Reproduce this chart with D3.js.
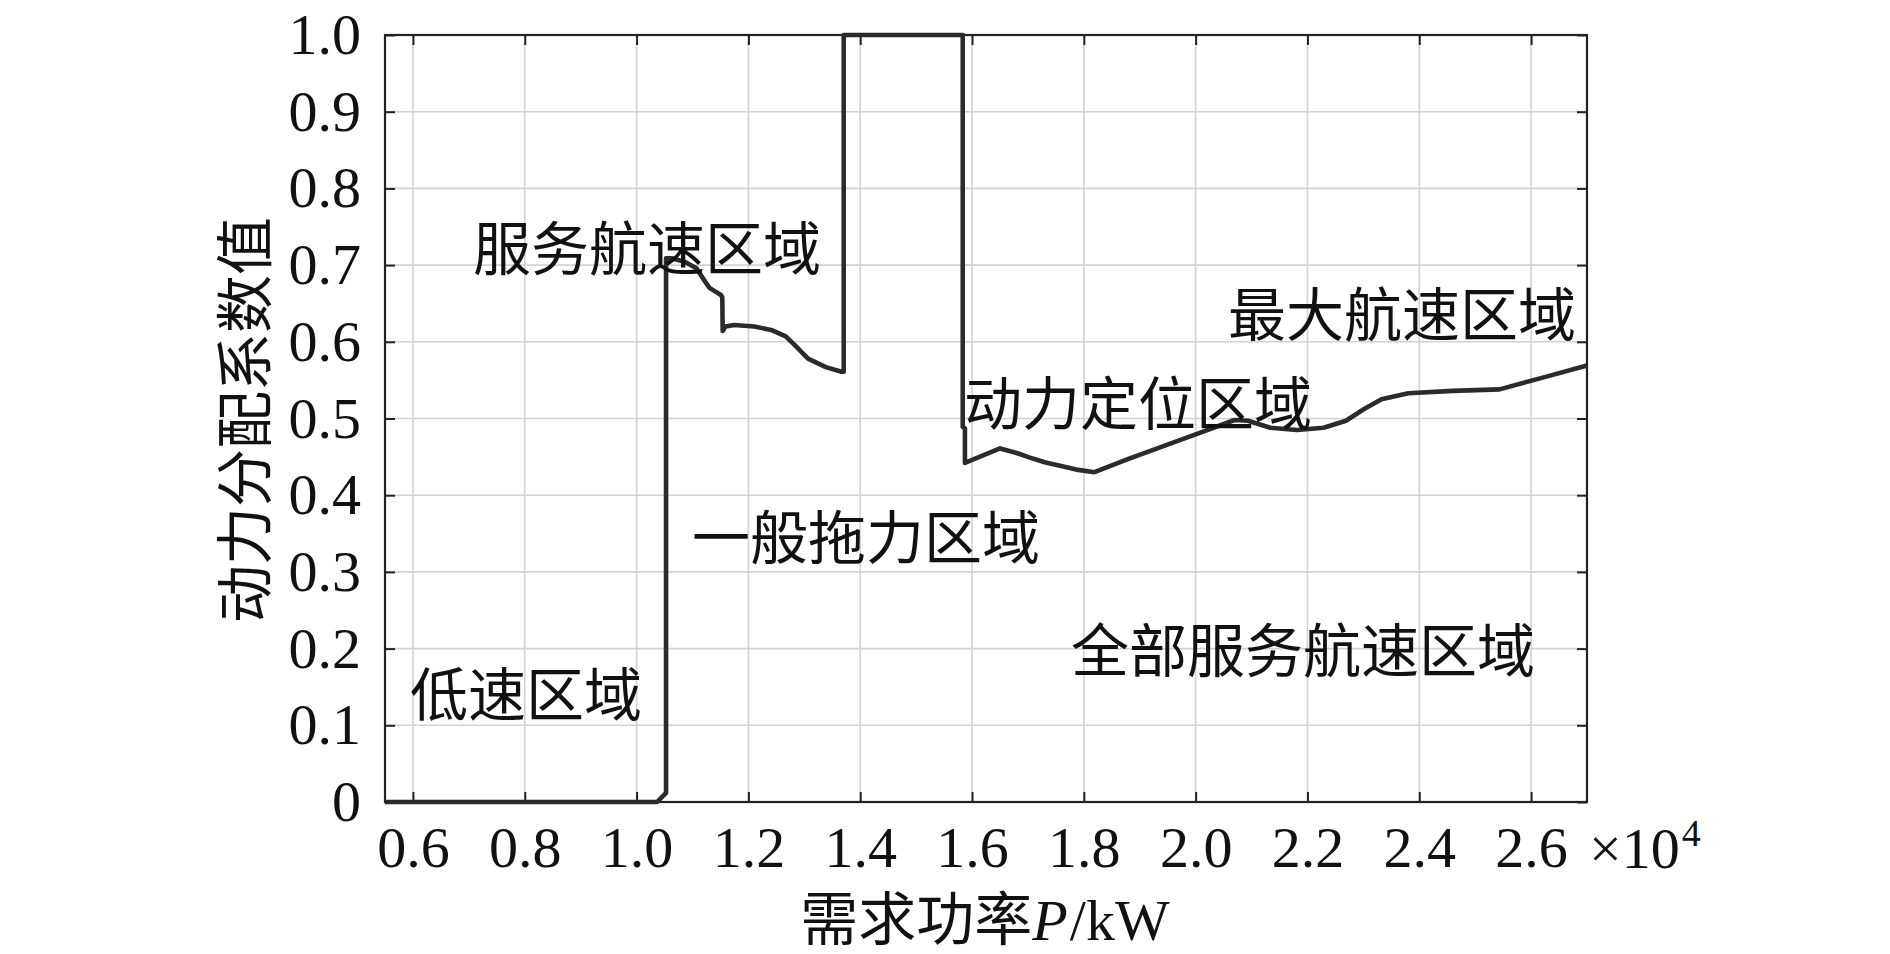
<!DOCTYPE html>
<html>
<head>
<meta charset="utf-8">
<script src="https://cdn.jsdelivr.net/npm/d3@7"></script>
<style>
  body { margin: 0; background: #fff; }
  .tick text { font-family: "Liberation Serif", "Times New Roman", serif; font-size: 58px; fill: #111; }
  .cjk { font-family: "Noto Sans CJK SC", sans-serif; font-size: 58px; fill: #111; }
  .serif { font-family: "Liberation Serif", "Times New Roman", serif; font-size: 58px; fill: #111; }
</style>
</head>
<body>
<svg id="chart"></svg>
<script>
// demand power (kW) and distribution coefficient
var power = [5500, 10367, 10527, 10527, 10631, 10870, 11070, 11230, 11309, 11509, 11533, 11540,
  11589, 11748, 12108, 12427, 12667, 12826, 13066, 13385, 13665, 13705, 13705, 15834, 15834,
  15873, 15873, 16501, 16800, 17035, 17300, 17592, 17900, 18190, 18787, 19424, 20061, 20698,
  20936, 21335, 21812, 22290, 22688, 23006, 23325, 23803, 24599, 25435, 26191, 27000]
var coef = [0, 0, 0.012, 0.709, 0.709, 0.704, 0.696, 0.678, 0.670, 0.661, 0.658, 0.614,
  0.620, 0.622, 0.620, 0.615, 0.607, 0.596, 0.578, 0.567, 0.561, 0.561, 1.0, 1.0, 0.489,
  0.487, 0.442, 0.461, 0.455, 0.449, 0.443, 0.438, 0.433, 0.430, 0.447, 0.464, 0.481, 0.498,
  0.497, 0.488, 0.485, 0.488, 0.497, 0.512, 0.525, 0.533, 0.536, 0.538, 0.553, 0.569]

var xTicks = [6000, 8000, 10000, 12000, 14000, 16000, 18000, 20000, 22000, 24000, 26000]
var yTicks = [0, 0.1, 0.2, 0.3, 0.4, 0.5, 0.6, 0.7, 0.8, 0.9, 1.0]

var regionNames = ["服务航速区域", "低速区域", "一般拖力区域", "动力定位区域", "最大航速区域", "全部服务航速区域"]
var regionP = [7073, 5946, 10991, 15857, 20580, 17771]
var regionC = [0.726, 0.145, 0.349, 0.524, 0.640, 0.202]

var W = 1890, H = 954
var margin = { left: 385, right: 303, top: 35, bottom: 152 }
var width = W - margin.left - margin.right
var height = H - margin.top - margin.bottom

var svg = d3.select("#chart").attr("width", W).attr("height", H)
var g = svg.append("g").attr("transform", "translate(" + margin.left + "," + margin.top + ")")

var x = d3.scaleLinear().domain([5500, 27000]).range([0, width])
var y = d3.scaleLinear().domain([0, 1]).range([height, 0])

// grid
g.append("g").selectAll("line").data(xTicks).enter().append("line")
  .attr("x1", function(d) { return x(d) }).attr("x2", function(d) { return x(d) })
  .attr("y1", 0).attr("y2", height)
  .attr("stroke", "#d2d2d2").attr("stroke-width", 1.6)
g.append("g").selectAll("line").data(yTicks).enter().append("line")
  .attr("y1", function(d) { return y(d) }).attr("y2", function(d) { return y(d) })
  .attr("x1", 0).attr("x2", width)
  .attr("stroke", "#d2d2d2").attr("stroke-width", 1.6)

// axes with inward ticks
var xAxis = g.append("g").attr("transform", "translate(0," + height + ")")
  .call(d3.axisBottom(x).tickValues(xTicks).tickSize(-10).tickPadding(24)
    .tickFormat(function(d) { return (d / 1e4).toFixed(1) }))
var yAxis = g.append("g")
  .call(d3.axisLeft(y).tickValues(yTicks).tickSize(-10).tickPadding(24)
    .tickFormat(function(d) { return d === 0 ? "0" : d.toFixed(1) }))
var topAxis = g.append("g")
  .call(d3.axisTop(x).tickValues(xTicks).tickSize(-10).tickFormat(""))
var rightAxis = g.append("g").attr("transform", "translate(" + width + ",0)")
  .call(d3.axisRight(y).tickValues(yTicks).tickSize(-10).tickFormat(""))
topAxis.selectAll("text").remove()
rightAxis.selectAll("text").remove()
;[xAxis, yAxis, topAxis, rightAxis].forEach(function(a) {
  a.select(".domain").remove()
  a.selectAll(".tick line").attr("stroke", "#222").attr("stroke-width", 2)
})

g.append("rect")
  .attr("width", width).attr("height", height)
  .attr("fill", "none").attr("stroke", "#222").attr("stroke-width", 2.2)

// the curve
var pts = power.map(function(p, i) { return [p, coef[i]] })
var line = d3.line()
  .x(function(d) { return x(d[0]) })
  .y(function(d) { return y(d[1]) })
g.append("path").datum(pts)
  .attr("d", line)
  .attr("fill", "none")
  .attr("stroke", "#2b2b2b")
  .attr("stroke-width", 4.6)
  .attr("stroke-linejoin", "round")

// region labels
g.append("g").selectAll("text").data(regionNames).enter().append("text")
  .attr("class", "cjk")
  .attr("x", function(d, i) { return x(regionP[i]) })
  .attr("y", function(d, i) { return y(regionC[i]) })
  .attr("dominant-baseline", "central")
  .text(function(d) { return d })

// x10^4 exponent
var ex = g.append("text").attr("class", "serif")
  .attr("x", width + 2).attr("y", height + 66)
  .text("×10")
g.append("text").attr("class", "serif")
  .attr("x", width + 4 + ex.node().getComputedTextLength())
  .attr("y", height + 44)
  .style("font-size", "38px")
  .text("4")

// x axis title, pieces laid side by side
var xParts = [["需求功率", "cjk", "normal"], ["P", "serif", "italic"], ["/kW", "serif", "normal"]]
var xlg = svg.append("g")
var cx = 0
xParts.forEach(function(p) {
  var t = xlg.append("text").attr("class", p[1]).style("font-style", p[2])
    .attr("x", cx).attr("y", 940).text(p[0])
  cx += t.node().getComputedTextLength() + (p[0] === "P" ? 2 : 0)
})
xlg.attr("transform", "translate(" + (985 - cx / 2) + ",0)")

svg.append("text")
  .attr("class", "cjk")
  .attr("transform", "translate(241,420) rotate(-90)")
  .attr("text-anchor", "middle")
  .attr("dominant-baseline", "central")
  .text("动力分配系数值")
</script>
</body>
</html>
